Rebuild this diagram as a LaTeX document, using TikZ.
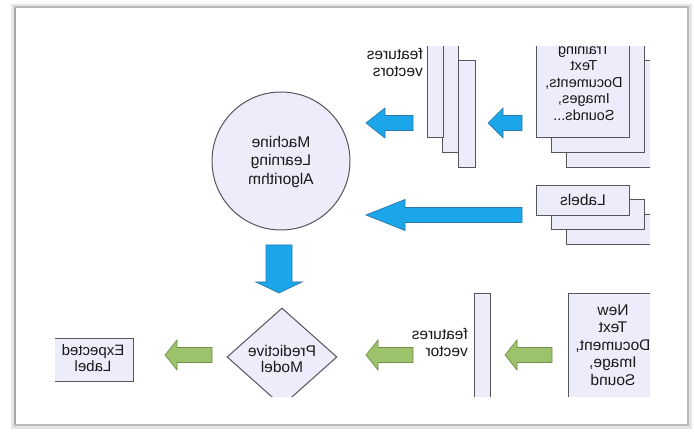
\documentclass[tikz,border=0pt]{standalone}
\usepackage{fontspec}
\usepackage{graphicx}
\usetikzlibrary{shapes.geometric}
\setmainfont{Liberation Sans}
\definecolor{boxfill}{HTML}{ECECFA}
\definecolor{boxline}{HTML}{55555C}
\definecolor{bluefill}{HTML}{1BA6EA}
\definecolor{blueline}{HTML}{2A78B0}
\definecolor{greenfill}{HTML}{9DC26C}
\definecolor{greenline}{HTML}{6F9048}
\newcommand{\mirc}[1]{\reflectbox{\begin{tabular}{@{}c@{}}#1\end{tabular}}}
\newcommand{\mirl}[1]{\reflectbox{\begin{tabular}{@{}l@{}}#1\end{tabular}}}
\begin{document}
\begin{tikzpicture}[x=1pt,y=-1pt,
  page/.style={draw=boxline,fill=boxfill,line width=1pt},
  bluearrow/.style={draw=blueline,fill=bluefill,line width=0.7pt,line join=miter},
  greenarrow/.style={draw=greenline,fill=greenfill,line width=0.7pt,line join=miter},
  txt/.style={inner sep=0pt,font=\fontsize{15.5}{17}\selectfont,text=black!90},
  stxt/.style={inner sep=0pt,font=\fontsize{14.5}{16.5}\selectfont,text=black!90}]
\useasboundingbox (0,0) rectangle (694,435);
\fill[white] (0,0) rectangle (694,435);
% frame with soft shadow
\draw[black!10,line width=4pt] (13,6) rectangle (690,427);
\draw[black!28,line width=1.5pt] (15,7) rectangle (688,425);
\draw[black!35,line width=1.5pt] (15,8) -- (15,424);
\fill[white] (16,8) rectangle (687,424);
\begin{scope}
\clip (55,47) rectangle (650,397);
% training documents stack
\draw[page] (566,61) rectangle (700,168);
\draw[page] (551,45) rectangle (644,153);
\node[page,minimum width=93pt,minimum height=106pt,inner sep=0pt,anchor=north west] (train) at (536,31) {};
\node[stxt] (traint) at (584,84) {\mirc{Training\\Text\\Documents,\\Images,\\Sounds...}};
% features vectors bars
\draw[page] (458,61) rectangle (475,168);
\draw[page] (442,45) rectangle (458,153);
\node[page,minimum width=16pt,minimum height=106pt,inner sep=0pt,anchor=north west] (fvecs) at (427,31) {};
\node[txt,anchor=east] (fvecst) at (423,65) {\mirl{features\\vectors}};
% labels stack
\draw[page] (566,215) rectangle (700,245);
\draw[page] (551,200) rectangle (644,230);
\node[page,minimum width=93pt,minimum height=30pt,inner sep=0pt,anchor=north west] (labels) at (536,185) {};
\node[txt] (labelst) at (583,200) {\reflectbox{Labels}};
% machine learning algorithm
\node[circle,draw=boxline,fill=boxfill,line width=1pt,minimum size=138pt,inner sep=0pt] (mla) at (281,161) {};
\node[txt,font=\fontsize{15.5}{18.5}\selectfont] (mlat) at (281,162) {\mirc{Machine\\Learning\\Algorithm}};
% new document
\node[page,minimum width=132pt,minimum height=127pt,inner sep=0pt,anchor=north west] (newdoc) at (568,293) {};
\node[txt,font=\fontsize{15.5}{17.5}\selectfont] (newdoct) at (613,347) {\mirc{New\\Text\\Document,\\Image,\\Sound}};
% feature vector bar
\node[page,minimum width=16pt,minimum height=127pt,inner sep=0pt,anchor=north west] (fvec) at (474,293) {};
\node[txt,anchor=east] (fvect) at (468,345) {\mirl{features\\vector}};
% predictive model
\node[diamond,draw=boxline,fill=boxfill,line width=1pt,minimum width=110pt,minimum height=98pt,inner sep=0pt] (pm) at (282,357) {};
\node[txt,font=\fontsize{15.5}{15.5}\selectfont] (pmt) at (282,361) {\mirc{Predictive\\Model}};
% expected label
\node[page,minimum width=88pt,minimum height=43pt,inner sep=0pt,anchor=north west] (exp) at (45,338) {};
\node[txt,font=\fontsize{15}{16}\selectfont] (expt) at (93,360) {\mirc{Expected\\Label}};
% block arrows
\draw[bluearrow] (488,123) -- (503,108) -- (503,115.5) -- (522,115.5) -- (522,130.5) -- (503,130.5) -- (503,138) -- cycle;
\draw[bluearrow] (366,123) -- (385,108) -- (385,115.5) -- (413,115.5) -- (413,130.5) -- (385,130.5) -- (385,138) -- cycle;
\draw[bluearrow] (366,215) -- (405,199.5) -- (405,207.5) -- (522,207.5) -- (522,222.5) -- (405,222.5) -- (405,230.5) -- cycle;
\draw[bluearrow] (279,293) -- (256,282) -- (266,282) -- (266,245) -- (292,245) -- (292,282) -- (302,282) -- cycle;
\draw[greenarrow] (505,355) -- (517,340) -- (517,347.5) -- (552,347.5) -- (552,362.5) -- (517,362.5) -- (517,370) -- cycle;
\draw[greenarrow] (366,355) -- (378,340) -- (378,347.5) -- (413,347.5) -- (413,362.5) -- (378,362.5) -- (378,370) -- cycle;
\draw[greenarrow] (165,355) -- (177,340) -- (177,347.5) -- (212,347.5) -- (212,362.5) -- (177,362.5) -- (177,370) -- cycle;
\end{scope}
\end{tikzpicture}
\end{document}
